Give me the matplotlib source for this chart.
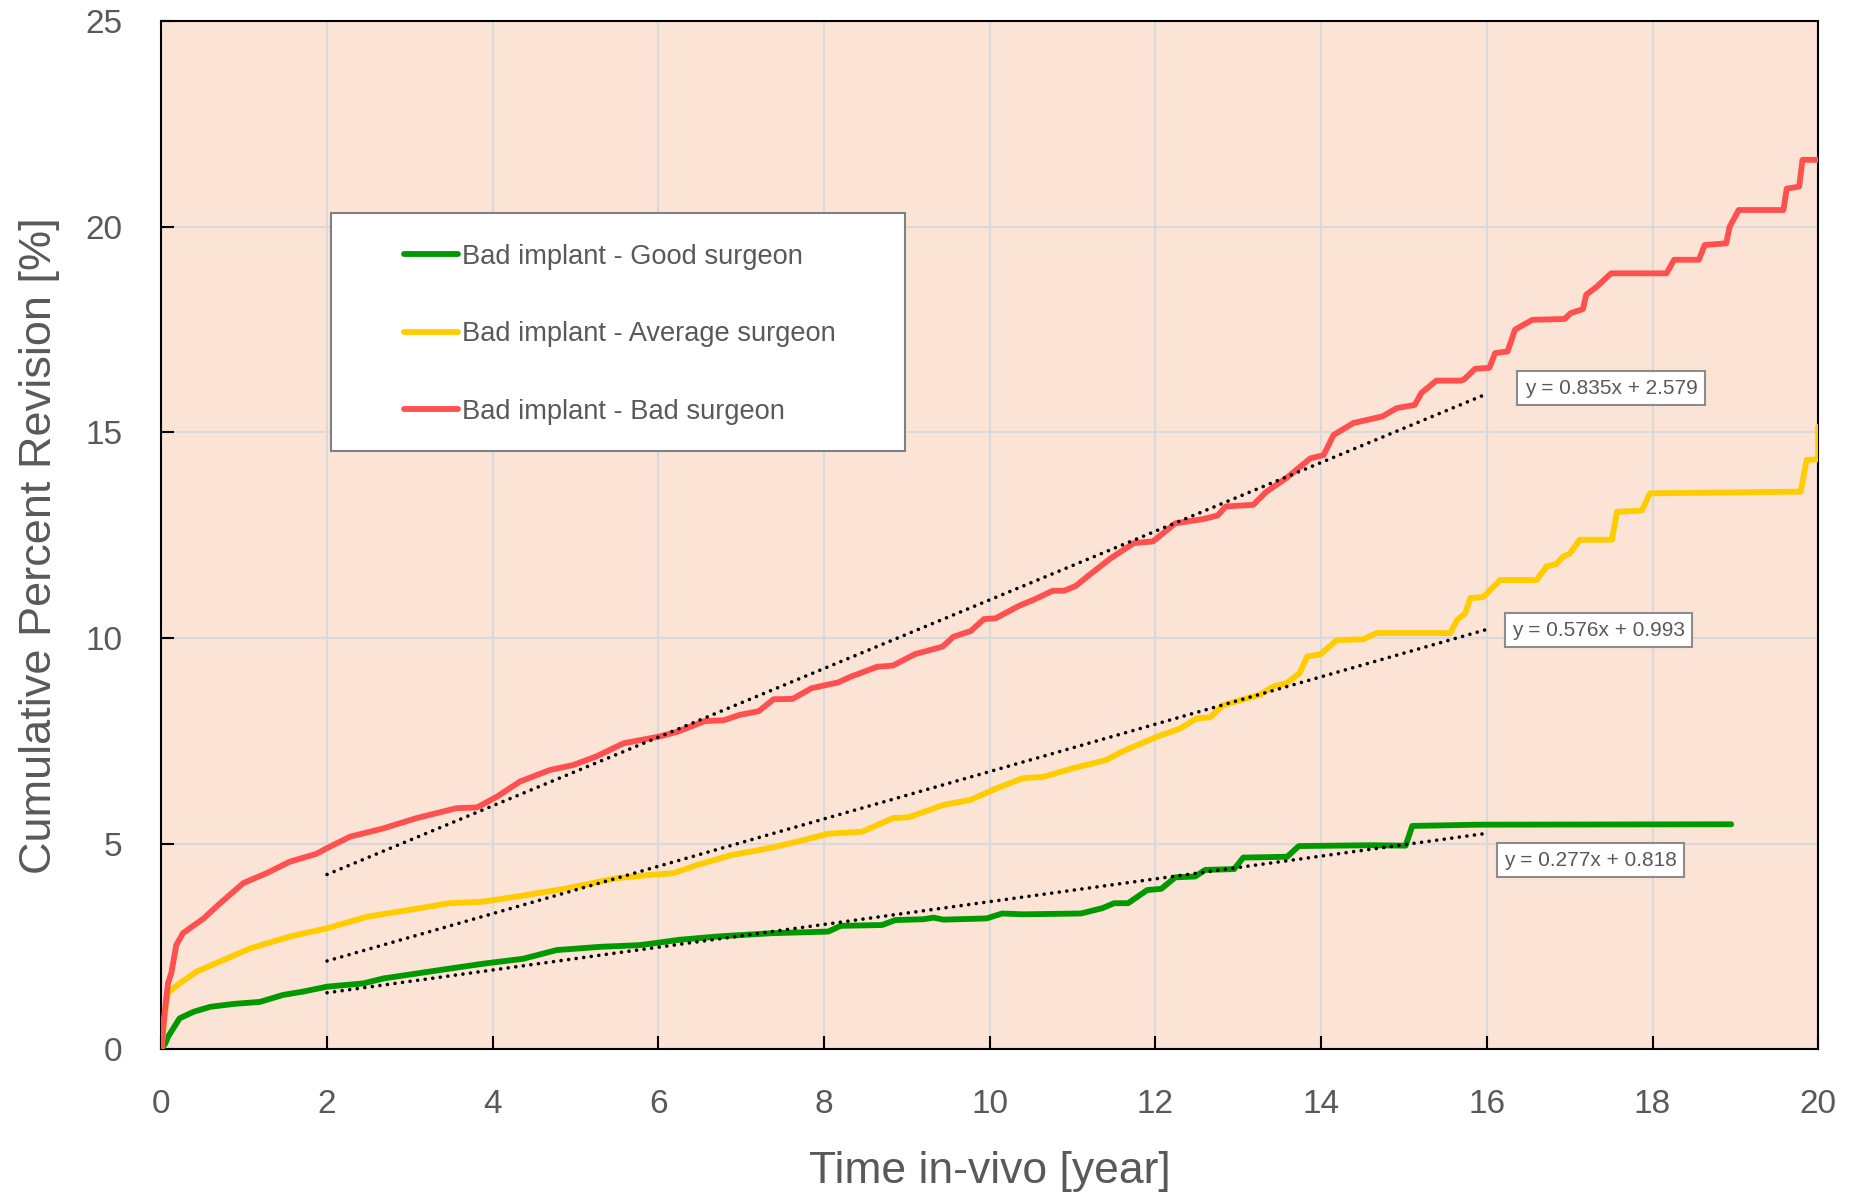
import matplotlib.pyplot as plt
from matplotlib.patches import Rectangle
from matplotlib.lines import Line2D

plt.rcParams['font.family'] = ['Liberation Sans', 'DejaVu Sans']

# cumulative percent revision
good_x = [0, 0.05, 0.08, 0.22, 0.39, 0.59, 0.87, 1.19, 1.47, 1.71, 2.0, 2.44, 2.68, 3.08,
          3.48, 3.89, 4.37, 4.77, 5.3, 5.77, 6.0, 6.25, 6.71, 7.36, 8.05, 8.2, 8.7, 8.86,
          9.2, 9.32, 9.44, 9.96, 10.15, 10.4, 11.1, 11.36, 11.5, 11.67, 11.9, 12.07, 12.24,
          12.48, 12.6, 12.95, 13.06, 13.59, 13.73, 14.6, 15.02, 15.1, 15.9, 18.95]
good_y = [0, 0.15, 0.3, 0.75, 0.91, 1.03, 1.1, 1.15, 1.32, 1.4, 1.52, 1.6, 1.72, 1.84,
          1.96, 2.08, 2.2, 2.41, 2.49, 2.53, 2.59, 2.66, 2.74, 2.82, 2.86, 3.0, 3.02, 3.14,
          3.16, 3.2, 3.15, 3.18, 3.3, 3.28, 3.3, 3.43, 3.55, 3.55, 3.87, 3.9, 4.18,
          4.2, 4.36, 4.38, 4.66, 4.68, 4.94, 4.96, 4.95, 5.43, 5.46, 5.47]

avg_x = [0, 0.04, 0.08, 0.22, 0.43, 0.75, 1.07, 1.55, 2.0, 2.48, 3.0, 3.48, 3.89, 4.29,
         4.89, 5.5, 5.9, 6.18, 6.47, 6.88, 7.39, 7.72, 8.05, 8.46, 8.83, 9.02, 9.44, 9.76,
         10.09, 10.4, 10.64, 11.0, 11.4, 11.6, 12.02, 12.3, 12.5, 12.66, 12.82, 13.26,
         13.42, 13.58, 13.74, 13.83, 13.99, 14.19, 14.51, 14.67, 15.56, 15.64, 15.74, 15.8,
         15.96, 16.16, 16.6, 16.72, 16.84, 16.92, 17.0, 17.12, 17.51, 17.57, 17.87, 17.97,
         19.79, 19.86, 20.0, 20.0]
avg_y = [0, 0.8, 1.37, 1.6, 1.89, 2.17, 2.45, 2.74, 2.94, 3.22, 3.39, 3.55, 3.59, 3.71,
         3.91, 4.16, 4.24, 4.28, 4.48, 4.72, 4.91, 5.07, 5.24, 5.29, 5.62, 5.64, 5.94, 6.06,
         6.35, 6.59, 6.62, 6.83, 7.03, 7.24, 7.6, 7.8, 8.05, 8.07, 8.37, 8.62,
         8.82, 8.9, 9.14, 9.55, 9.6, 9.95, 9.97, 10.12, 10.12, 10.44, 10.6, 10.97,
         11.0, 11.41, 11.41, 11.74, 11.8, 11.98, 12.05, 12.39, 12.39, 13.07, 13.1, 13.52,
         13.56, 14.33, 14.35, 15.14]

bad_x = [0, 0.04, 0.08, 0.12, 0.18, 0.26, 0.51, 0.71, 0.99, 1.27, 1.55, 1.87, 2.0, 2.28,
         2.68, 3.08, 3.56, 3.81, 4.05, 4.33, 4.69, 4.97, 5.25, 5.58, 6.0, 6.23, 6.56, 6.79,
         6.98, 7.21, 7.39, 7.62, 7.85, 8.17, 8.31, 8.64, 8.83, 9.1, 9.43, 9.56, 9.77, 9.93,
         10.07, 10.35, 10.53, 10.76, 10.9, 11.04, 11.18, 11.46, 11.74, 11.97, 12.24, 12.57,
         12.75, 12.85, 13.18, 13.34, 13.58, 13.87, 14.03, 14.15, 14.39, 14.74, 14.91, 15.13,
         15.21, 15.39, 15.69, 15.73, 15.86, 16.03, 16.1, 16.25, 16.34, 16.55, 16.94, 17.01,
         17.16, 17.2, 17.33, 17.5, 18.17, 18.26, 18.56, 18.63, 18.89, 18.93, 19.04, 19.58,
         19.62, 19.77, 19.81, 20.0]
bad_y = [0, 0.9, 1.6, 1.85, 2.53, 2.82, 3.18, 3.55, 4.04, 4.28, 4.56, 4.75, 4.89, 5.17,
         5.37, 5.62, 5.86, 5.88, 6.14, 6.51, 6.79, 6.91, 7.12, 7.44, 7.6, 7.72, 7.98, 8.0,
         8.13, 8.22, 8.51, 8.52, 8.78, 8.92, 9.05, 9.3, 9.33, 9.61, 9.79, 10.03, 10.17, 10.46,
         10.48, 10.78, 10.93, 11.15, 11.15, 11.27, 11.5, 11.94, 12.31, 12.35, 12.79, 12.89,
         12.98, 13.2, 13.24, 13.56, 13.89, 14.37, 14.45, 14.94, 15.23, 15.39, 15.59, 15.67,
         15.96, 16.26, 16.26, 16.3, 16.55, 16.57, 16.93, 16.97, 17.5, 17.74, 17.76, 17.9,
         18.0, 18.35, 18.55, 18.87, 18.87, 19.2, 19.2, 19.56, 19.6, 20.0, 20.41, 20.41,
         20.93, 20.98, 21.63, 21.63]

labels = ['Bad implant - Good surgeon', 'Bad implant - Average surgeon', 'Bad implant - Bad surgeon']
colors = ['#009A00', '#FFCC00', '#FF5050']

# linear trendlines (from the equations on the chart)
slopes = [0.277, 0.576, 0.835]
intercepts = [0.818, 0.993, 2.579]
trend_x = [2, 16]
eq_x = [17.25, 17.35, 17.5]
eq_y = [4.6, 10.19, 16.08]

xticks = list(range(0, 21, 2))
yticks = list(range(0, 26, 5))

grey = '#595959'

fig = plt.figure(figsize=(18.61, 11.97), dpi=100)
ax = fig.add_axes([0.0867, 0.1235, 0.8903, 0.8587])
ax.set_facecolor('#FBE3D6')

series = [(good_x, good_y), (avg_x, avg_y), (bad_x, bad_y)]
for (xs, ys), c in zip(series, colors):
    ax.plot(xs, ys, color=c, lw=4.2, solid_capstyle='round', solid_joinstyle='round', zorder=3)

for m, b, ex, ey in zip(slopes, intercepts, eq_x, eq_y):
    ax.plot(trend_x, [m * x + b for x in trend_x], color='black', lw=2.6,
            linestyle=(0, (0.01, 2.1)), dash_capstyle='round', zorder=4)
    ax.text(ex, ey, f'y = {m:.3f}x + {b:.3f}', ha='center', va='center', fontsize=15,
            color=grey, zorder=6,
            bbox=dict(boxstyle='square,pad=0.35', fc='white', ec='#8C8C8C', lw=1.5))

ax.set_xlim(0, 20)
ax.set_ylim(0, 25)
ax.set_xticks(xticks)
ax.set_yticks(yticks)
ax.grid(color='#D9D9D9', lw=1.5)
ax.set_axisbelow(True)
for s in ax.spines.values():
    s.set_color('black')
    s.set_linewidth(1.5)
ax.tick_params(direction='in', length=9.5, width=1.5, labelsize=24, labelcolor=grey)
ax.tick_params(axis='x', pad=29)
ax.tick_params(axis='y', pad=28)

ax.set_xlabel('Time in-vivo [year]', fontsize=32, color=grey)
ax.xaxis.set_label_coords(0.5, -0.0995)
ax.set_ylabel('Cumulative Percent Revision [%]', fontsize=32.5, color=grey)
ax.yaxis.set_label_coords(-0.061, 0.49)

# legend box
ax.add_patch(Rectangle((0.1024, 0.582), 0.3467, 0.2316, transform=ax.transAxes,
                       fc='white', ec='#808080', lw=1.5, zorder=5))
handles = [Line2D([], [], color=c, lw=4.2, solid_capstyle='round') for c in colors]
leg = ax.legend(handles, labels, loc='center left', bbox_to_anchor=(0.1464, 0.6955),
                frameon=False, fontsize=19.6, handlelength=2.0, handletextpad=0.12,
                labelspacing=1.9, borderpad=0, borderaxespad=0)
leg.set_zorder(6)
for t in leg.get_texts():
    t.set_color(grey)

fig.savefig('out.png', dpi=100)
